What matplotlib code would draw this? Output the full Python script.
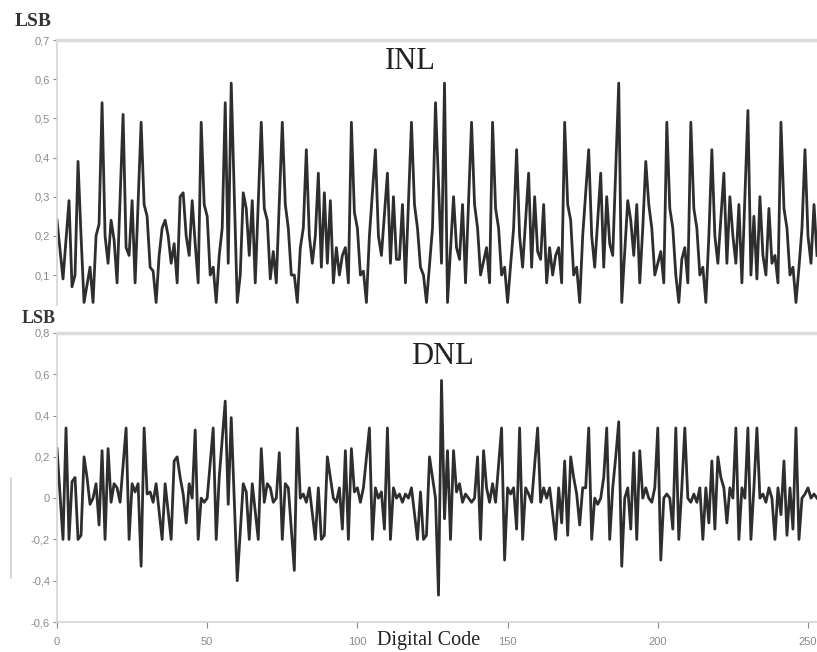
import matplotlib.pyplot as plt
from matplotlib.lines import Line2D

# INL (code, LSB)
inl_code = [0, 2, 4, 5, 6, 7, 8, 9, 11, 12, 13, 14, 15, 16, 17, 18, 19, 20, 22, 23,
            24, 25, 26, 28, 29, 30, 31, 32, 33, 34, 35, 36, 37, 38, 39, 40, 41, 42, 43, 44,
            45, 46, 47, 48, 49, 50, 51, 52, 53, 54, 55, 56, 57, 58, 60, 61, 62, 63, 64, 65,
            66, 68, 69, 70, 71, 72, 73, 75, 76, 77, 78, 79, 80, 81, 82, 83, 84, 85, 86, 87,
            88, 89, 90, 91, 92, 93, 94, 95, 96, 97, 98, 99, 100, 101, 102, 103, 104, 106, 107, 108,
            110, 111, 112, 113, 114, 115, 116, 118, 119, 120, 121, 122, 123, 125, 126, 128, 129, 130, 132, 133,
            134, 135, 136, 138, 139, 140, 141, 143, 144, 145, 146, 147, 148, 149, 150, 152, 153, 154, 155, 157,
            158, 159, 160, 161, 162, 163, 164, 165, 166, 167, 168, 169, 170, 171, 172, 173, 174, 175, 177, 178,
            179, 181, 182, 183, 184, 185, 187, 188, 190, 191, 192, 193, 194, 195, 196, 197, 198, 199, 200, 201,
            202, 203, 204, 205, 206, 207, 208, 209, 210, 211, 212, 213, 214, 215, 216, 217, 218, 219, 220, 222,
            223, 224, 225, 226, 227, 228, 230, 231, 232, 233, 234, 235, 236, 237, 238, 239, 240, 241, 242, 243,
            244, 245, 246, 247, 248, 249, 250, 251, 252, 253]
inl_lsb = [0.24, 0.09, 0.29, 0.07, 0.10, 0.39, 0.20, 0.03, 0.12, 0.03, 0.20, 0.23, 0.54, 0.20, 0.13, 0.24, 0.19, 0.08, 0.51, 0.17,
           0.15, 0.29, 0.08, 0.49, 0.28, 0.25, 0.12, 0.11, 0.03, 0.15, 0.22, 0.24, 0.20, 0.13, 0.18, 0.08, 0.30, 0.31, 0.20, 0.15,
           0.29, 0.18, 0.08, 0.49, 0.28, 0.25, 0.10, 0.12, 0.03, 0.15, 0.22, 0.54, 0.13, 0.59, 0.03, 0.10, 0.31, 0.27, 0.15, 0.29,
           0.08, 0.49, 0.27, 0.24, 0.09, 0.16, 0.08, 0.49, 0.28, 0.22, 0.10, 0.10, 0.03, 0.17, 0.22, 0.42, 0.20, 0.13, 0.20, 0.36,
           0.12, 0.31, 0.13, 0.29, 0.08, 0.17, 0.10, 0.15, 0.17, 0.08, 0.49, 0.26, 0.22, 0.10, 0.11, 0.03, 0.20, 0.42, 0.20, 0.15,
           0.36, 0.13, 0.30, 0.14, 0.14, 0.28, 0.08, 0.49, 0.28, 0.22, 0.12, 0.10, 0.03, 0.22, 0.54, 0.13, 0.59, 0.03, 0.30, 0.17,
           0.14, 0.28, 0.08, 0.49, 0.28, 0.22, 0.10, 0.17, 0.08, 0.49, 0.27, 0.22, 0.10, 0.12, 0.03, 0.22, 0.42, 0.20, 0.12, 0.36,
           0.12, 0.30, 0.16, 0.14, 0.28, 0.08, 0.17, 0.10, 0.15, 0.17, 0.08, 0.49, 0.28, 0.24, 0.10, 0.12, 0.03, 0.20, 0.42, 0.20,
           0.12, 0.36, 0.12, 0.30, 0.18, 0.15, 0.59, 0.03, 0.29, 0.24, 0.15, 0.28, 0.08, 0.22, 0.39, 0.28, 0.22, 0.10, 0.13, 0.16,
           0.08, 0.49, 0.27, 0.22, 0.10, 0.03, 0.14, 0.17, 0.08, 0.49, 0.27, 0.22, 0.10, 0.12, 0.03, 0.20, 0.42, 0.20, 0.13, 0.36,
           0.13, 0.30, 0.20, 0.13, 0.28, 0.08, 0.52, 0.10, 0.25, 0.09, 0.30, 0.15, 0.10, 0.27, 0.13, 0.15, 0.08, 0.49, 0.27, 0.22,
           0.10, 0.12, 0.03, 0.12, 0.22, 0.42, 0.20, 0.13, 0.28, 0.15]

# DNL (code, LSB)
dnl_code = [0, 2, 3, 4, 5, 6, 7, 8, 9, 10, 11, 12, 13, 14, 15, 16, 17, 18, 19, 20,
            21, 23, 24, 25, 26, 27, 28, 29, 30, 31, 32, 33, 35, 36, 38, 39, 40, 41, 42, 43,
            44, 45, 46, 47, 48, 49, 50, 52, 53, 54, 56, 57, 58, 60, 62, 63, 64, 65, 67, 68,
            69, 70, 71, 72, 73, 74, 75, 76, 77, 79, 80, 81, 82, 83, 84, 86, 87, 88, 89, 90,
            91, 92, 93, 94, 95, 96, 97, 98, 99, 100, 101, 102, 104, 105, 106, 107, 108, 109, 110, 111,
            112, 113, 114, 115, 116, 117, 118, 120, 121, 122, 123, 124, 125, 126, 127, 128, 129, 130, 131, 132,
            133, 134, 135, 136, 137, 138, 139, 140, 141, 142, 143, 144, 145, 146, 148, 149, 150, 151, 152, 153,
            154, 155, 156, 157, 158, 160, 161, 162, 163, 164, 166, 167, 168, 169, 170, 171, 172, 173, 174, 175,
            176, 177, 178, 179, 180, 181, 182, 183, 184, 185, 186, 187, 188, 189, 190, 191, 192, 193, 194, 195,
            196, 197, 198, 199, 200, 201, 202, 203, 204, 205, 206, 207, 208, 209, 210, 211, 212, 213, 214, 215,
            216, 217, 218, 219, 220, 221, 222, 223, 224, 225, 226, 227, 228, 229, 230, 231, 232, 233, 234, 235,
            236, 237, 238, 239, 240, 241, 242, 243, 244, 245, 246, 247, 248, 249, 250, 251, 252, 253]
dnl_lsb = [0.24, -0.20, 0.34, -0.20, 0.08, 0.10, -0.20, -0.18, 0.20, 0.10, -0.03, 0.00, 0.07, -0.13, 0.23, -0.20, 0.24, -0.02, 0.07, 0.05,
           -0.02, 0.34, -0.20, 0.07, 0.03, 0.07, -0.33, 0.34, 0.02, 0.03, -0.02, 0.07, -0.20, 0.07, -0.20, 0.18, 0.20, 0.10, 0.02, -0.12,
           0.07, 0.00, 0.33, -0.20, 0.00, -0.02, 0.00, 0.34, -0.20, 0.10, 0.47, -0.03, 0.39, -0.40, 0.07, 0.03, -0.20, 0.07, -0.20, 0.24,
           -0.02, 0.07, 0.05, -0.02, 0.00, 0.22, -0.20, 0.07, 0.05, -0.35, 0.34, 0.00, 0.02, -0.02, 0.05, -0.20, 0.05, -0.20, -0.18, 0.20,
           0.10, 0.00, -0.02, 0.05, -0.15, 0.23, -0.20, 0.24, 0.03, 0.05, -0.02, 0.05, 0.34, -0.20, 0.05, 0.00, 0.03, -0.15, 0.34, -0.20,
           0.05, 0.00, 0.02, -0.02, 0.02, 0.00, 0.05, -0.20, 0.03, -0.20, -0.18, 0.20, 0.10, 0.00, -0.47, 0.57, -0.10, 0.23, -0.20, 0.23,
           0.03, 0.07, -0.02, 0.02, 0.00, -0.02, 0.00, 0.20, -0.20, 0.23, 0.05, -0.02, 0.07, -0.02, 0.34, -0.30, 0.05, 0.02, 0.05, -0.15,
           0.34, -0.20, 0.05, 0.02, -0.02, 0.34, -0.02, 0.05, 0.00, 0.05, -0.20, 0.05, -0.12, 0.18, -0.18, 0.20, 0.10, 0.02, -0.13, 0.05,
           0.05, 0.34, -0.20, 0.00, -0.03, 0.00, 0.10, 0.34, -0.20, 0.05, 0.20, 0.37, -0.33, 0.00, 0.05, -0.15, 0.22, -0.20, 0.23, 0.00,
           0.05, 0.00, -0.02, 0.05, 0.34, -0.30, 0.00, 0.02, 0.00, -0.15, 0.34, -0.20, 0.05, 0.34, 0.00, -0.02, 0.02, -0.02, 0.05, -0.20,
           0.05, -0.12, 0.18, -0.15, 0.20, 0.10, 0.05, -0.12, 0.05, 0.00, 0.34, -0.20, 0.05, 0.00, 0.34, -0.20, 0.05, 0.34, 0.00, 0.02,
           -0.02, 0.05, 0.00, -0.20, 0.05, -0.08, 0.18, -0.18, 0.05, -0.15, 0.34, -0.20, 0.00, 0.02, 0.05, 0.00, 0.02, 0.00]

inl_ticks = [0.1, 0.2, 0.3, 0.4, 0.5, 0.6, 0.7]
dnl_ticks = [-0.6, -0.4, -0.2, 0, 0.2, 0.4, 0.6, 0.8]
code_ticks = [0, 50, 100, 150, 200, 250]

W, H = 817, 652
fig = plt.figure(figsize=(W / 100, H / 100), dpi=100)

line_col = '#2e2e2e'
tick_col = '#8a8a8a'
spine_col = '#d4d4d4'
serif = 'Liberation Serif'


def comma(v):
    s = ('%.1f' % v).replace('.', ',')
    return '0' if s in ('0,0', '-0,0') else s


def style(ax):
    for s in ('right', 'bottom'):
        ax.spines[s].set_visible(False)
    ax.spines['left'].set_color(spine_col)
    ax.spines['left'].set_linewidth(1.2)
    ax.spines['top'].set_color('#dcdcdc')
    ax.spines['top'].set_linewidth(2.5)
    ax.tick_params(axis='y', colors=tick_col, length=3, width=0.8, pad=2,
                   labelsize=8)
    for t in ax.get_yticklabels():
        t.set_fontfamily('Liberation Sans')
    ax.set_xlim(0, 253)


# top panel: INL
ax1 = fig.add_axes([57 / W, 1 - 305 / H, 1 - 57 / W, 265 / H])
ax1.plot(inl_code, inl_lsb, color=line_col, lw=2.0, solid_joinstyle='round')
ax1.set_ylim(0.0235, 0.7)
ax1.set_yticks(inl_ticks)
ax1.set_yticklabels([comma(v) for v in inl_ticks])
ax1.set_xticks([])
style(ax1)
ax1.text((410 - 57) / (W - 57), 1 - (61 - 40) / 265, 'INL', transform=ax1.transAxes,
         ha='center', va='center', fontsize=22, family=serif, color='#222222')

# bottom panel: DNL
ax2 = fig.add_axes([57 / W, 1 - 622 / H, 1 - 57 / W, 289 / H])
ax2.plot(dnl_code, dnl_lsb, color=line_col, lw=2.0, solid_joinstyle='round')
ax2.set_ylim(-0.6, 0.8)
ax2.set_yticks(dnl_ticks)
ax2.set_yticklabels([comma(v) for v in dnl_ticks])
ax2.set_xticks(code_ticks)
style(ax2)
ax2.spines['bottom'].set_visible(True)
ax2.spines['bottom'].set_color(spine_col)
ax2.spines['bottom'].set_linewidth(1.2)
ax2.tick_params(axis='x', colors=tick_col, length=4, width=0.8, pad=7, labelsize=8)
for t in ax2.get_xticklabels():
    t.set_fontfamily('Liberation Sans')
ax2.text((442 - 57) / (W - 57), 1 - (357 - 333) / 289, 'DNL', transform=ax2.transAxes,
         ha='center', va='center', fontsize=22, family=serif, color='#222222')

# axis labels
fig.text(33 / W, 1 - 22 / H, 'LSB', ha='center', va='center', fontsize=14,
         fontweight='bold', family=serif, color='#333333')
fig.text(39 / W, 1 - 319 / H, 'LSB', ha='center', va='center', fontsize=13,
         fontweight='bold', family=serif, color='#333333')
fig.text(429 / W, 1 - 641 / H, 'Digital Code', ha='center', va='center', fontsize=14.5,
         family=serif, color='#222222')

# stray rule at the left edge of the lower panel
fig.add_artist(Line2D([11 / W, 11 / W], [1 - 478 / H, 1 - 578 / H], color='#cfcfcf', lw=1.2))

fig.savefig('out.png', dpi=100)
